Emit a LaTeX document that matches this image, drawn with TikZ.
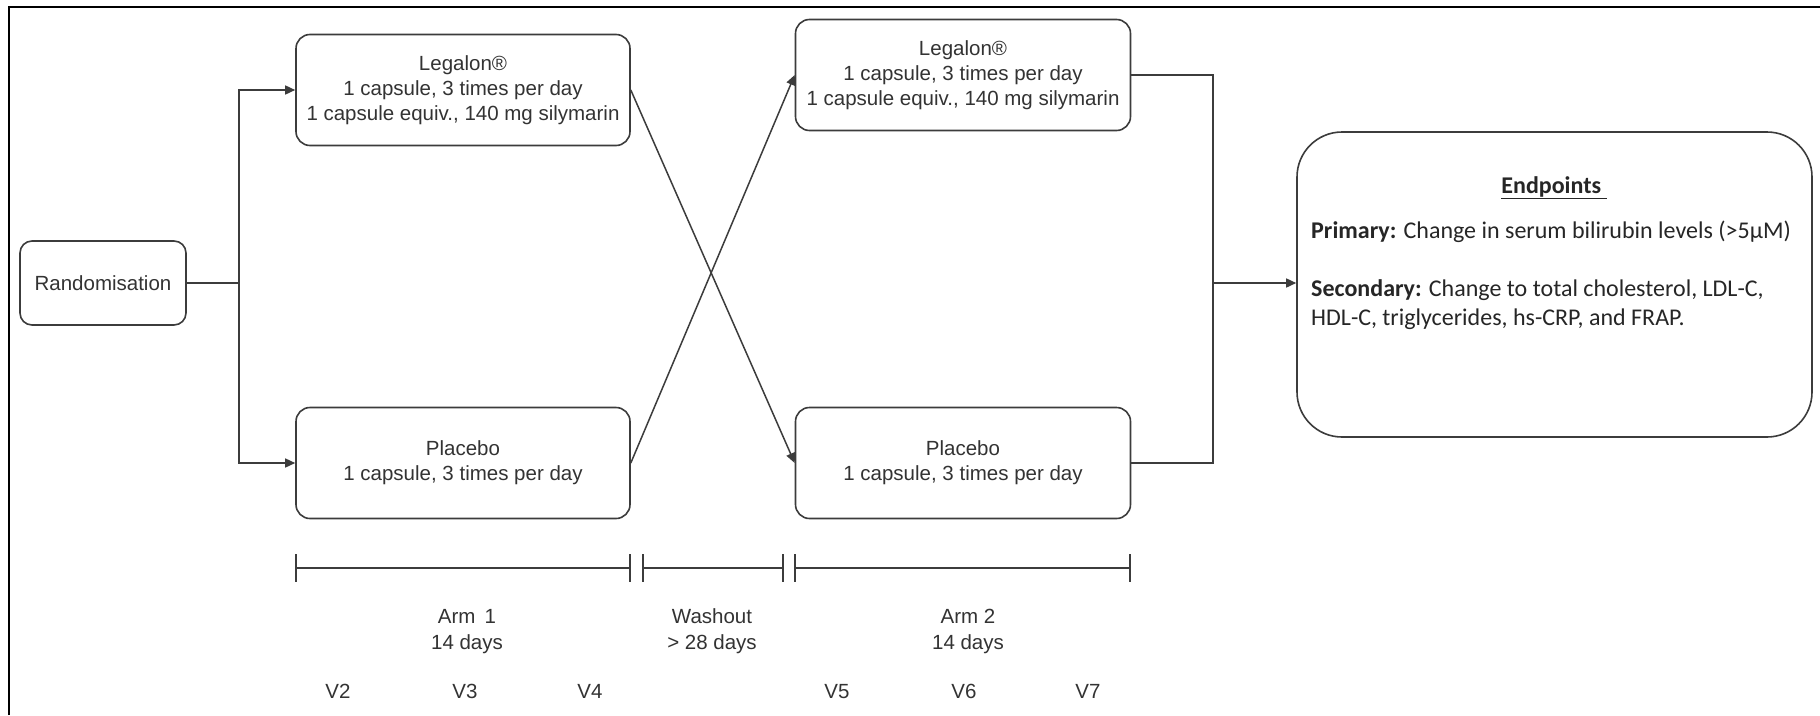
\documentclass[tikz,border=0pt]{standalone}
\usepackage{fontspec}
\setmainfont{Liberation Sans}
\newfontfamily\calfnt{Carlito}
\usetikzlibrary{arrows.meta}
\definecolor{txt}{HTML}{333333}
\definecolor{edge}{HTML}{3C3C3C}
\begin{document}
\begin{tikzpicture}[x=1pt,y=-1pt,
  box/.style={draw=edge, line width=1.6pt, rounded corners=14pt, minimum width=334pt, minimum height=111pt, align=center, text=txt, font=\fontsize{20.5}{25}\selectfont, inner sep=0pt},
  conn/.style={draw=edge, line width=1.5pt},
  arr/.style={conn, -{Triangle[length=10pt,width=9pt]}},
  lbl/.style={text=txt, font=\fontsize{20.5}{25}\selectfont, inner sep=0pt, text height=15pt, text depth=4pt},
  ept/.style={text=black!85, font=\calfnt\fontsize{24}{29}\selectfont, inner sep=0pt},
]
\useasboundingbox (0,0) rectangle (1820,715);
\fill[white] (0,0) rectangle (1820,715);
\draw[line width=2.5pt] (9,715) -- (9,7) -- (1820,7);

% boxes
\node[box, minimum width=166pt, minimum height=84pt, rounded corners=12pt] (rand) at (103,283) {Randomisation};
\node[box] (leg1) at (463,90) {Legalon®\\1 capsule, 3 times per day\\1 capsule equiv., 140 mg silymarin};
\node[box] (pla1) at (463,463) {Placebo\\1 capsule, 3 times per day};
\node[box, minimum width=335pt] (leg2) at (963,75) {Legalon®\\1 capsule, 3 times per day\\1 capsule equiv., 140 mg silymarin};
\node[box, minimum width=335pt] (pla2) at (963,463) {Placebo\\1 capsule, 3 times per day};
\node[box, minimum width=515pt, minimum height=305pt, rounded corners=45pt] (endp) at (1554.5,284.5) {};

% endpoints text
\node[ept, anchor=base] (eh) at (1554,193) {\bfseries\underline{Endpoints~}};
\node[ept, anchor=base west] (ep1) at (1311,238) {\textbf{Primary:} Change in serum bilirubin levels (>5µM)};
\node[ept, anchor=base west] (ep2) at (1311,296) {\textbf{Secondary:} Change to total cholesterol, LDL-C,};
\node[ept, anchor=base west] (ep3) at (1311,325) {HDL-C, triglycerides, hs-CRP, and FRAP.};

% connectors
\coordinate (br) at (239,283);
\coordinate (mg) at (1213,283);
\draw[conn] (rand.east) -- (br);
\draw[arr] (br) |- (leg1.west);
\draw[arr] (br) |- (pla1.west);
\draw[arr] (leg1.east) -- (pla2.west);
\draw[arr] (pla1.east) -- (leg2.west);
\draw[conn] (leg2.east) -| (mg);
\draw[conn] (pla2.east) -| (mg);
\draw[arr] (mg) -- (mg -| endp.west);

% timeline
\foreach \a/\b in {296/630, 643/783, 795/1130}{
  \draw[conn] (\a,568) -- (\b,568);
  \draw[conn] (\a,554) -- (\a,582);
  \draw[conn] (\b,554) -- (\b,582);
}

% timeline labels
\node[lbl] (a1) at (467,618) {Arm\hspace{0.45em}1};
\node[lbl] (a1d) at (467,644) {14 days};
\node[lbl] (wo) at (712,618) {Washout};
\node[lbl] (wod) at (712,644) {> 28 days};
\node[lbl] (a2) at (968,618) {Arm 2};
\node[lbl] (a2d) at (968,644) {14 days};
\node[lbl] (v2) at (338,693) {V2};
\node[lbl] (v3) at (465,693) {V3};
\node[lbl] (v4) at (590,693) {V4};
\node[lbl] (v5) at (837,693) {V5};
\node[lbl] (v6) at (964,693) {V6};
\node[lbl] (v7) at (1088,693) {V7};
\end{tikzpicture}
\end{document}
